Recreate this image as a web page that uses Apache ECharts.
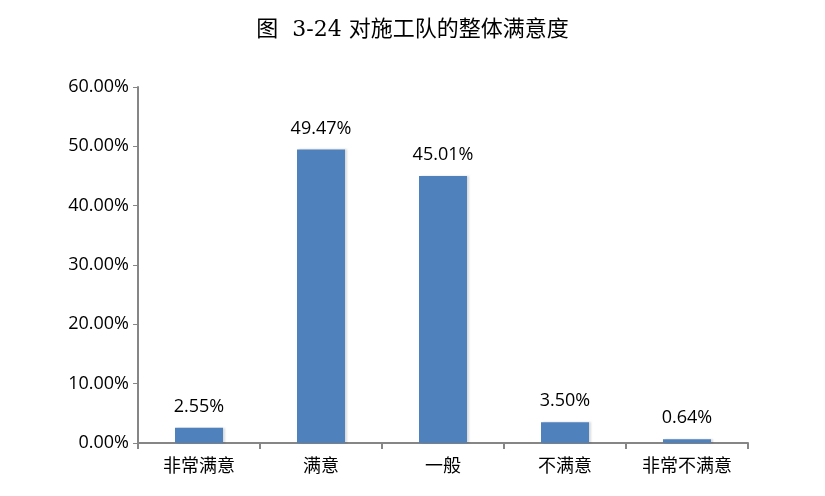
<!DOCTYPE html>
<html>
<head>
<meta charset="utf-8">
<script src="https://cdn.jsdelivr.net/npm/echarts@6/dist/echarts.min.js"></script>
<style>
html, body { margin: 0; padding: 0; background: #fff; }
#chart { width: 825px; height: 496px; }
</style>
</head>
<body>
<div id="chart"></div>
<script>
var categories = ['非常满意', '满意', '一般', '不满意', '非常不满意'];
var values = [2.55, 49.47, 45.01, 3.50, 0.64];

var chart = echarts.init(document.getElementById('chart'));

var option = {
	// 对施工队的整体满意度
	title: {
		text: '图  3-24 对施工队的整体满意度',
		left: 'center',
		top: 14,
		textStyle: {
			fontFamily: '"DejaVu Serif", "Noto Sans CJK SC", serif',
			fontWeight: 'normal',
			fontSize: 22,
			color: '#000'
		}
	},
	grid: {
		left: 138,
		right: 77,
		top: 87,
		bottom: 53
	},
	xAxis: {
		type: 'category',
		data: categories,
		axisLine: {
			lineStyle: { color: '#868686', width: 2 }
		},
		axisTick: {
			show: true,
			alignWithLabel: false,
			length: 6,
			lineStyle: { color: '#868686', width: 2 }
		},
		axisLabel: {
			interval: 0,
			hideOverlap: false,
			color: '#000',
			fontSize: 18,
			margin: 13,
			fontFamily: '"Noto Sans CJK SC", sans-serif'
		}
	},
	yAxis: {
		type: 'value',
		min: 0,
		max: 60,
		interval: 10,
		axisLine: {
			show: true,
			lineStyle: { color: '#868686', width: 2 }
		},
		axisTick: {
			show: true,
			length: 5,
			lineStyle: { color: '#868686', width: 1 }
		},
		splitLine: { show: false },
		axisLabel: {
			color: '#000',
			fontSize: 18,
			margin: 9,
			fontFamily: '"Open Sans", "Liberation Sans", sans-serif',
			formatter: function(v) {
				return v.toFixed(2) + '%';
			}
		}
	},
	series: [{
		type: 'bar',
		data: values,
		barWidth: 48,
		label: {
			show: true,
			position: 'top',
			distance: 12,
			color: '#000',
			fontSize: 18,
			fontFamily: '"Open Sans", "Liberation Sans", sans-serif',
			formatter: function(p) {
				return p.value.toFixed(2) + '%';
			}
		},
		itemStyle: {
			color: '#4F81BD',
			shadowColor: 'rgba(0,0,0,0.15)',
			shadowBlur: 2,
			shadowOffsetX: 2,
			shadowOffsetY: 0
		}
	}],
	animation: false
};

chart.setOption(option);
</script>
</body>
</html>
